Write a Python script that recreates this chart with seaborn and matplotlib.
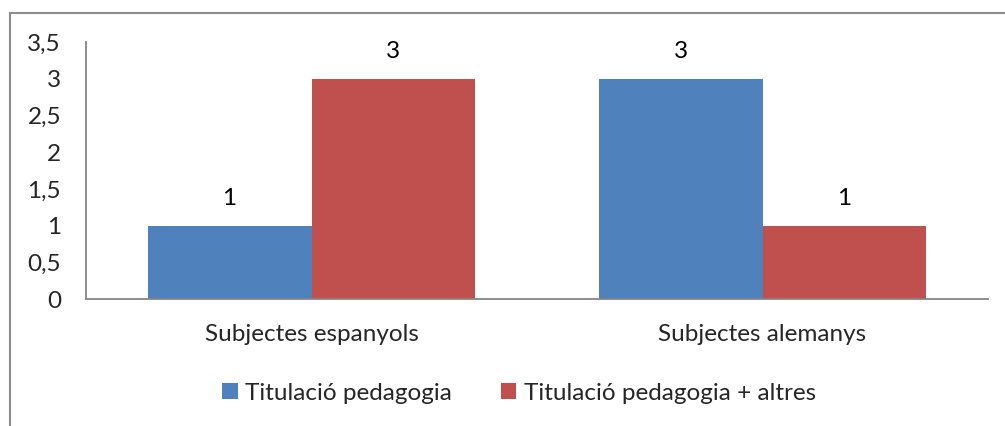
import matplotlib
matplotlib.use("Agg")
import matplotlib.pyplot as plt
import seaborn as sns
import pandas as pd
from matplotlib.patches import Rectangle

# Data
categories = ['Subjectes espanyols', 'Subjectes alemanys']
series_names = ['Titulació pedagogia', 'Titulació pedagogia + altres']
pedagogia = [1, 3]
pedagogia_altres = [3, 1]
y_ticks = [0, 0.5, 1, 1.5, 2, 2.5, 3, 3.5]
y_tick_labels = ['0', '0,5', '1', '1,5', '2', '2,5', '3', '3,5']

colors = ['#4F81BD', '#C0504D']
axis_gray = '#868686'
FS = 17.5

df = pd.DataFrame({
    'categoria': categories * 2,
    'serie': [series_names[0]] * 2 + [series_names[1]] * 2,
    'valor': pedagogia + pedagogia_altres,
})

sns.set_style('white')
plt.rcParams['font.family'] = ['Lato', 'DejaVu Sans']

fig = plt.figure(figsize=(10.05, 4.26), dpi=100)
ax = fig.add_axes([0.0856, 0.298, 0.8975, 0.603])

sns.barplot(data=df, x='categoria', y='valor', hue='serie', order=categories,
            hue_order=series_names, palette=colors, width=0.727, saturation=1,
            linewidth=0, ax=ax, legend=True)

for cont in ax.containers:
    ax.bar_label(cont, labels=[f'{v:g}' for v in cont.datavalues],
                 padding=12, fontsize=FS, color='black')

ax.set_ylim(0, 3.5)
ax.set_xlim(-0.5, 1.5)
ax.set_yticks(y_ticks)
ax.set_yticklabels(y_tick_labels, fontsize=FS)
ax.tick_params(axis='x', labelsize=FS, pad=18, length=0)
ax.tick_params(axis='y', pad=18, length=0)
ax.set_xlabel('')
ax.set_ylabel('')

for side in ['top', 'right']:
    ax.spines[side].set_visible(False)
for side in ['left', 'bottom']:
    ax.spines[side].set_color(axis_gray)
    ax.spines[side].set_linewidth(1.3)

handles, labels = ax.get_legend_handles_labels()
ax.legend(handles, labels, loc='center', bbox_to_anchor=(0.48, -0.366),
          ncol=2, frameon=False, fontsize=FS, handlelength=0.65, handleheight=0.65,
          handletextpad=0.3, columnspacing=2.0)

# outer chart frame (partly visible, cut by image edge)
fig.patches.append(Rectangle((10 / 1005, -0.1), 1.2, 1 - 13 / 426 + 0.1,
                             transform=fig.transFigure, fill=False,
                             edgecolor='#8c8c8c', linewidth=1.5))

fig.savefig('out.png', dpi=100)
